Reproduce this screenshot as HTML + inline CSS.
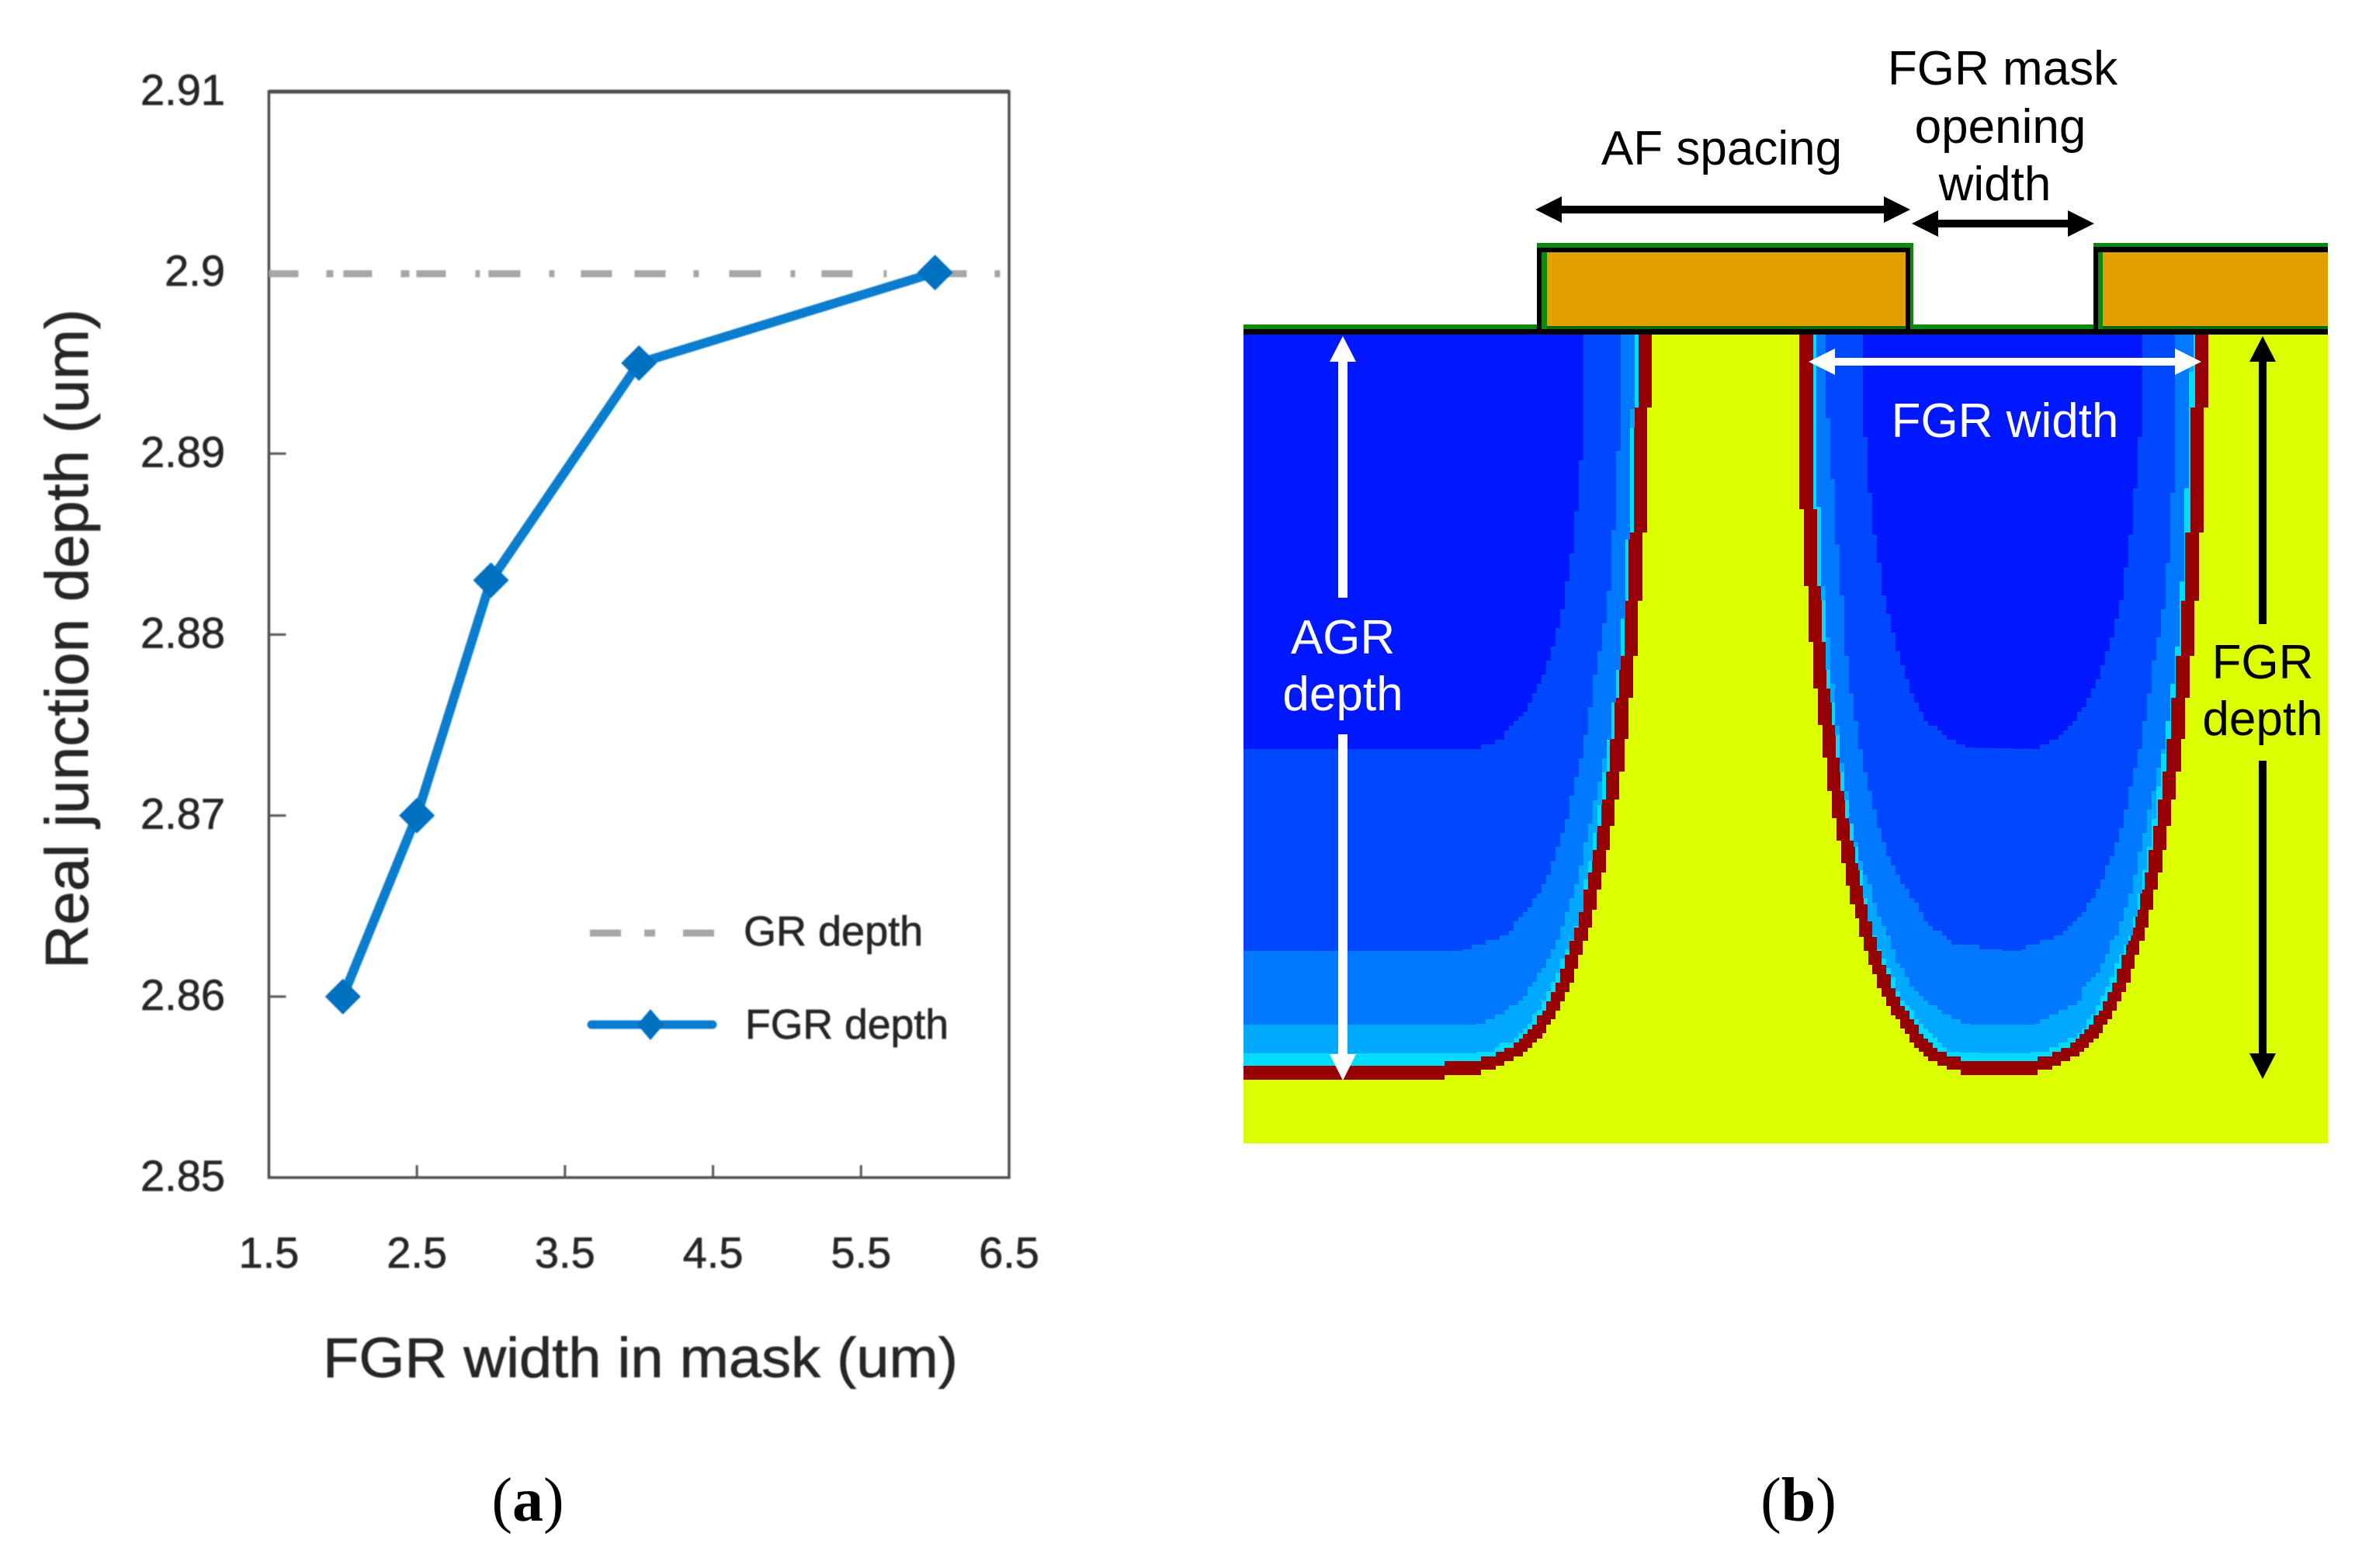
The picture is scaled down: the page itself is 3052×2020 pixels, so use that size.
<!DOCTYPE html>
<html lang="en">
<head>
<meta charset="utf-8">
<title>FGR junction depth chart and cross-section</title>
<style>
html,body{margin:0;padding:0;background:#fff;}
svg{display:block;}
text{font-family:"Liberation Sans",sans-serif;}
.tick{font-size:56px;fill:#262626;stroke:#262626;stroke-width:0.7px;}
.title{fill:#262626;stroke:#262626;stroke-width:0.7px;}
.cap{font-family:"Liberation Serif",serif;font-size:80px;fill:#000;}
.lab{font-size:62px;fill:#000;text-anchor:middle;}
.wh{fill:#fff;}
</style>
</head>
<body>
<svg id="fig" xmlns="http://www.w3.org/2000/svg" width="3052" height="2020" viewBox="0 0 3052 2020">
  <rect x="0" y="0" width="3052" height="2020" fill="#fff"/>
  <g id="panelA" style="filter:blur(0.9px)"></g>
  <text class="cap" x="680" y="1959" text-anchor="middle">(<tspan font-weight="bold">a</tspan>)</text>
  <text class="cap" x="2317" y="1959" text-anchor="middle">(<tspan font-weight="bold">b</tspan>)</text>

  <g>
    <rect x="1602" y="431" width="1397" height="1042" fill="#dcff00"/>
    <g id="wells"></g>

    <rect x="1602" y="418" width="1397" height="6" fill="#0a8a0a"/>
    <rect x="1602" y="424" width="1397" height="7" fill="#000"/>

    <g>
      <rect x="1980" y="313" width="485" height="6" fill="#0a8a0a"/>
      <rect x="1980" y="319" width="481" height="6" fill="#000"/>
      <rect x="1980" y="319" width="6" height="105" fill="#000"/>
      <rect x="1986" y="325" width="7" height="95" fill="#0a8a0a"/>
      <rect x="1993" y="325" width="462" height="95" fill="#e2a000"/>
      <rect x="2455" y="319" width="6" height="105" fill="#000"/>
      <rect x="2461" y="319" width="4" height="100" fill="#0a8a0a"/>
      <rect x="1993" y="420" width="462" height="4" fill="#0a6a0a"/>
    </g>
    <g>
      <rect x="2697" y="313" width="302" height="5" fill="#0a8a0a"/>
      <rect x="2697" y="318" width="302" height="7" fill="#000"/>
      <rect x="2697" y="318" width="6" height="106" fill="#000"/>
      <rect x="2703" y="325" width="6" height="95" fill="#0a8a0a"/>
      <rect x="2709" y="325" width="290" height="95" fill="#e2a000"/>
      <rect x="2709" y="420" width="290" height="4" fill="#0a6a0a"/>
    </g>

    <g fill="#000">
      <rect x="2010" y="265" width="420" height="10"/>
      <polygon points="1978,270 2012,253 2012,287"/>
      <polygon points="2461,270 2427,253 2427,287"/>
    </g>
    <g fill="#000">
      <rect x="2495" y="283" width="172" height="10"/>
      <polygon points="2463,288 2497,271 2497,305"/>
      <polygon points="2698,288 2664,271 2664,305"/>
    </g>
    <g fill="#fff">
      <rect x="2362" y="461" width="444" height="10"/>
      <polygon points="2330,466 2364,449 2364,483"/>
      <polygon points="2836,466 2802,449 2802,483"/>
    </g>
    <g fill="#fff">
      <rect x="1724" y="464" width="12" height="306"/>
      <polygon points="1730,433 1713,466 1747,466"/>
      <rect x="1724" y="946" width="12" height="414"/>
      <polygon points="1730,1392 1713,1358 1747,1358"/>
    </g>
    <g fill="#000">
      <rect x="2910" y="464" width="10" height="340"/>
      <polygon points="2915,433 2898,466 2932,466"/>
      <rect x="2910" y="980" width="10" height="380"/>
      <polygon points="2915,1390 2898,1357 2932,1357"/>
    </g>

    <text class="lab" x="2218" y="212">AF spacing</text>
    <text class="lab" x="2580" y="109">FGR mask</text>
    <text class="lab" x="2577" y="184">opening</text>
    <text class="lab" x="2570" y="258">width</text>
    <text class="lab wh" x="2583" y="563">FGR width</text>
    <text class="lab wh" x="1730" y="842">AGR</text>
    <text class="lab wh" x="1730" y="915">depth</text>
    <text class="lab" x="2915" y="874">FGR</text>
    <text class="lab" x="2915" y="947">depth</text>
  </g>
</svg>
<script>
// ---- Chart data ----
const xTickLabels = ['1.5', '2.5', '3.5', '4.5', '5.5', '6.5'];
const yTickLabels = ['2.85', '2.86', '2.87', '2.88', '2.89', '2.9', '2.91'];
const fgrWidths = [2, 2.5, 3, 4, 6];
const fgrDepths = [2.86, 2.87, 2.883, 2.895, 2.9];
const grDepth = [2.9];
const legendLabels = ['GR depth', 'FGR depth'];

// ---- Cross-section contour tables (diagram outlines, [y, x]) ----
const redLeft = [[525,2128],[686,2122],[774,2116],[845,2110],[899,2104],[952,2098],[994,2093],[1030,2086],[1064,2080],[1095,2074],[1124,2069],[1146,2063],[1172,2057],[1195,2051],[1212,2046],[1230,2039],[1248,2033],[1266,2028],[1278,2022],[1290,2016],[1302,2010],[1313,2004],[1320,1998],[1331,1992],[1338,1987],[1343,1980],[1350,1974],[1355,1968],[1361,1962],[1367,1950],[1373,1938],[1378,1927],[1385,1908],[1391,1861]];
const cyanLeft = [[525,2111],[686,2105],[774,2098],[845,2093],[899,2086],[952,2080],[994,2074],[1030,2069],[1064,2063],[1095,2057],[1124,2051],[1146,2046],[1172,2040],[1195,2034],[1212,2028],[1230,2022],[1248,2016],[1266,2010],[1278,2004],[1290,1998],[1302,1992],[1308,1987],[1320,1980],[1326,1974],[1332,1968],[1338,1962],[1343,1957],[1350,1950],[1355,1938],[1361,1927],[1367,1908],[1373,1861]];
const sky1Left = [[431,2110],[525,2108],[612,2101],[714,2098],[845,2087],[916,2080],[992,2070],[1050,2062],[1099,2054],[1144,2044],[1172,2040],[1195,2034],[1212,2028],[1230,2017],[1250,2010],[1265,2005],[1278,1998],[1290,1992],[1302,1986],[1307,1980],[1320,1974],[1326,1968],[1332,1962],[1340,1950],[1345,1938],[1352,1927],[1356,1908],[1357,1902]];
const sky2Left = [[431,2108],[525,2103],[660,2099],[770,2093],[845,2087],[950,2073],[1023,2057],[1068,2047],[1112,2037],[1150,2028],[1167,2022],[1183,2017],[1205,2010],[1213,2004],[1230,1998],[1238,1992],[1250,1986],[1260,1980],[1272,1968],[1290,1962],[1295,1950],[1303,1938],[1313,1920],[1320,1902]];
const blue1Left = [[431,2086],[561,2086],[673,2080],[750,2074],[800,2068],[858,2057],[898,2051],[934,2045],[965,2040],[994,2033],[1019,2027],[1041,2022],[1066,2016],[1083,2010],[1103,2004],[1115,1998],[1130,1993],[1150,1985],[1163,1974],[1175,1968],[1183,1957],[1193,1950],[1205,1938],[1210,1927],[1215,1908],[1220,1895],[1225,1886]];
const blue2Left = [[431,2040],[561,2040],[638,2033],[691,2028],[733,2022],[770,2016],[820,2004],[840,1998],[858,1992],[876,1986],[887,1980],[898,1974],[909,1968],[923,1960],[936,1948],[950,1935],[958,1920],[965,1902],[970,1866]];

const redRightWell = [[656,2318],[755,2324],[827,2330],[887,2336],[934,2342],[976,2348],[1019,2354],[1054,2360],[1083,2366],[1112,2372],[1141,2378],[1165,2383],[1183,2390],[1207,2395],[1225,2401],[1243,2407],[1255,2412],[1273,2418],[1284,2424],[1296,2430],[1308,2436],[1313,2442],[1325,2448],[1332,2454],[1343,2460],[1350,2466],[1355,2472],[1361,2478],[1367,2484],[1373,2496],[1378,2508],[1385,2526]];
const cyanRightWell = [[656,2336],[755,2341],[827,2347],[887,2353],[934,2360],[976,2365],[1019,2371],[1054,2377],[1083,2383],[1112,2390],[1141,2396],[1165,2401],[1183,2407],[1207,2412],[1225,2418],[1243,2424],[1255,2430],[1273,2436],[1284,2442],[1296,2448],[1302,2454],[1313,2460],[1320,2466],[1332,2472],[1338,2478],[1343,2484],[1350,2490],[1355,2496],[1361,2508],[1367,2526]];
const sky1RightWell = [[431,2336],[587,2336],[653,2341],[845,2349],[934,2362],[1023,2374],[1112,2392],[1165,2401],[1207,2412],[1237,2425],[1260,2437],[1278,2443],[1290,2448],[1302,2460],[1313,2467],[1323,2473],[1332,2483],[1338,2490],[1345,2497],[1352,2508],[1356,2526]];
const sky2RightWell = [[431,2337],[590,2338],[656,2343],[755,2349],[845,2357],[889,2362],[934,2367],[979,2372],[1023,2380],[1068,2386],[1112,2398],[1150,2412],[1167,2417],[1183,2422],[1197,2430],[1220,2437],[1237,2443],[1250,2452],[1267,2460],[1278,2470],[1290,2483],[1300,2497],[1307,2508],[1313,2520],[1320,2537]];
const blue1RightWell = [[431,2354],[530,2354],[602,2360],[684,2365],[740,2371],[827,2377],[889,2384],[934,2392],[987,2401],[1014,2408],[1063,2419],[1095,2430],[1126,2443],[1150,2460],[1167,2470],[1180,2477],[1193,2488],[1202,2500],[1213,2513],[1218,2532],[1222,2567],[1225,2580]];
const blue2RightWell = [[431,2401],[535,2401],[627,2408],[686,2414],[714,2419],[763,2426],[800,2436],[833,2443],[871,2456],[903,2466],[929,2482],[945,2502],[958,2522],[963,2538]];

// ---- Chart axes ----
const SVGNS = 'http://www.w3.org/2000/svg';
const plot = { left: 346.4, right: 1300, top: 118, bottom: 1517 };
const xMin = parseFloat(xTickLabels[0]);
const xMax = parseFloat(xTickLabels[xTickLabels.length - 1]);
const yMin = parseFloat(yTickLabels[0]);
const yMax = parseFloat(yTickLabels[yTickLabels.length - 1]);
function xScale(v) { return plot.left + (v - xMin) / (xMax - xMin) * (plot.right - plot.left); }
function yScale(v) { return plot.bottom - (v - yMin) / (yMax - yMin) * (plot.bottom - plot.top); }
function mk(parent, tag, attrs) {
  const el = document.createElementNS(SVGNS, tag);
  for (const k in attrs) el.setAttribute(k, attrs[k]);
  parent.appendChild(el);
  return el;
}
function diamond(cx, cy, rx, ry) {
  return (cx - rx) + ',' + cy + ' ' + cx + ',' + (cy - ry) + ' ' + (cx + rx) + ',' + cy + ' ' + cx + ',' + (cy + ry);
}

const panelA = document.getElementById('panelA');

const frame = mk(panelA, 'rect', { x: plot.left, y: plot.top, width: plot.right - plot.left, height: plot.bottom - plot.top, fill: 'none', stroke: '#4d4d4d', 'stroke-width': 3.5 });


const frameTop = mk(panelA, 'line', { x1: plot.left, x2: plot.right, y1: plot.top, y2: plot.top, stroke: '#4d4d4d', 'stroke-width': 5 });



yTickLabels.forEach(function (lab) {
  const v = parseFloat(lab);
  const y = yScale(v);
  if (v > yMin && v < yMax) {
    const t = mk(panelA, 'line', { x1: plot.left, x2: plot.left + 22, y1: y, y2: y, stroke: '#555', 'stroke-width': 3 });
    
    
  }
  const txt = mk(panelA, 'text', { x: 290, y: y + 17, 'text-anchor': 'end', class: 'tick' });
  txt.textContent = lab;
  
  
});

xTickLabels.forEach(function (lab) {
  const v = parseFloat(lab);
  const x = xScale(v);
  if (v > xMin && v < xMax) {
    const t = mk(panelA, 'line', { x1: x, x2: x, y1: plot.bottom, y2: plot.bottom - 16, stroke: '#555', 'stroke-width': 3 });
    
    
  }
  const txt = mk(panelA, 'text', { x: x, y: 1633, 'text-anchor': 'middle', class: 'tick' });
  txt.textContent = lab;
  
  
});

const grLine = mk(panelA, 'line', {
  x1: xScale(xMin), x2: xScale(xMax), y1: yScale(grDepth[0]) + 1.5, y2: yScale(grDepth[0]) + 1.5,
  stroke: '#a6a6a6', 'stroke-width': 9,
  'stroke-dasharray': '38 36 9 13 37 37 11 9 38 38 6 11 41 37 7 34 40 29 40 36 7 39 41 38 6 34 40 40 4 63 40 36 7 60'
});



const fgrLine = mk(panelA, 'polyline', {
  points: fgrWidths.map(function (w, i) { return xScale(w) + ',' + yScale(fgrDepths[i]); }).join(' '),
  fill: 'none', stroke: '#0a7dcf', 'stroke-width': 12, 'stroke-linejoin': 'round'
});



fgrWidths.forEach(function (w, i) {
  const m = mk(panelA, 'polygon', { points: diamond(xScale(w), yScale(fgrDepths[i]), 23, 23), fill: '#0070c0' });
  
  
});

const legendGr = mk(panelA, 'line', { x1: 760, x2: 920, y1: 1202, y2: 1202, stroke: '#a6a6a6', 'stroke-width': 9, 'stroke-dasharray': '40 30 14 36 40 20' });


const legendGrText = mk(panelA, 'text', { x: 958, y: 1218, 'font-size': 54, class: 'title' });
legendGrText.textContent = legendLabels[0];



const legendFgr = mk(panelA, 'line', { x1: 762, x2: 918, y1: 1320, y2: 1320, stroke: '#0a7dcf', 'stroke-width': 11, 'stroke-linecap': 'round' });


const legendMark = mk(panelA, 'polygon', { points: diamond(838, 1320, 17, 20), fill: '#0070c0' });


const legendFgrText = mk(panelA, 'text', { x: 960, y: 1338, 'font-size': 54, class: 'title', textLength: 262, lengthAdjust: 'spacingAndGlyphs' });
legendFgrText.textContent = legendLabels[1];



const xTitle = mk(panelA, 'text', { x: 416, y: 1774, 'font-size': 72, class: 'title', textLength: 818, lengthAdjust: 'spacingAndGlyphs' });
xTitle.textContent = 'FGR width in mask (um)';



const yTitle = mk(panelA, 'text', { transform: 'translate(113 1248) rotate(-90)', x: 0, y: 0, 'font-size': 78, class: 'title', textLength: 850, lengthAdjust: 'spacingAndGlyphs' });
yTitle.textContent = 'Real junction depth (um)';



// ---- Cross-section wells ----
function stepEdge(table, shift) {
  const out = [];
  let prev = 431;
  table.forEach(function (r) {
    out.push([r[1] + shift, prev], [r[1] + shift, r[0]]);
    prev = r[0];
  });
  return out;
}
// snap: Math.round for interior contours, floor/ceil keep the outermost sky contour from covering the red band.
function smoothEdge(table, shift, snap) {
  const out = [];
  const last = table[table.length - 1][0];
  const row = 6;
  const q = snap || Math.round;
  function at(y) {
    for (let i = 1; i < table.length; i++) {
      if (y <= table[i][0]) {
        const a = table[i - 1], b = table[i];
        return a[1] + (b[1] - a[1]) * (y - a[0]) / ((b[0] - a[0]) || 1);
      }
    }
    return table[table.length - 1][1];
  }
  for (let y = 431; y < last; y += row) {
    const x = q((at(y + row / 2) + shift) / 6) * 6;
    out.push([x, y], [x, Math.min(y + row, last)]);
  }
  return out;
}
function toPoints(list) { return list.map(function (p) { return p[0] + ',' + p[1]; }).join(' '); }

const wells = document.getElementById('wells');
const LW = 1602;
const SHIFT = 717;
function addLeft(edgePts, color, name) {
  const lastY = edgePts[edgePts.length - 1][1];
  const pts = [[LW, 431]].concat(edgePts, [[LW, lastY]]);
  const p = mk(wells, 'polygon', { points: toPoints(pts), fill: color, 'shape-rendering': 'crispEdges' });
  
  
}
function addRight(leftEdge, rightEdge, color, name) {
  const pts = leftEdge.concat(rightEdge.slice().reverse());
  const p = mk(wells, 'polygon', { points: toPoints(pts), fill: color, 'shape-rendering': 'crispEdges' });
  
  
}

addLeft(stepEdge(redLeft, 0), '#960000', 'agr-junction-contour');
addLeft(stepEdge(cyanLeft, 0), '#00dcff', 'agr-contour-cyan');
addLeft(smoothEdge(sky1Left, 0, Math.floor), '#00a8ff', 'agr-contour-sky');
addLeft(smoothEdge(sky2Left, 0), '#0078ff', 'agr-contour-light-blue');
addLeft(smoothEdge(blue1Left, 0), '#0048ff', 'agr-contour-blue');
addLeft(smoothEdge(blue2Left.slice(0, -1), 0), '#0018ff', 'agr-contour-deep-blue');

addRight(stepEdge(redRightWell, 0), stepEdge(redLeft.slice(0, -1), SHIFT), '#960000', 'fgr-junction-contour');
addRight(stepEdge(cyanRightWell, 0), stepEdge(cyanLeft.slice(0, -1), SHIFT), '#00dcff', 'fgr-contour-cyan');
addRight(smoothEdge(sky1RightWell, 0, Math.ceil), smoothEdge(sky1Left, SHIFT, Math.floor), '#00a8ff', 'fgr-contour-sky');
addRight(smoothEdge(sky2RightWell, 0), smoothEdge(sky2Left, SHIFT), '#0078ff', 'fgr-contour-light-blue');
addRight(smoothEdge(blue1RightWell, 0), smoothEdge(blue1Left, SHIFT), '#0048ff', 'fgr-contour-blue');
addRight(smoothEdge(blue2RightWell, 0), smoothEdge(blue2Left.slice(0, -1), SHIFT), '#0018ff', 'fgr-contour-deep-blue');
</script>
</body>
</html>
